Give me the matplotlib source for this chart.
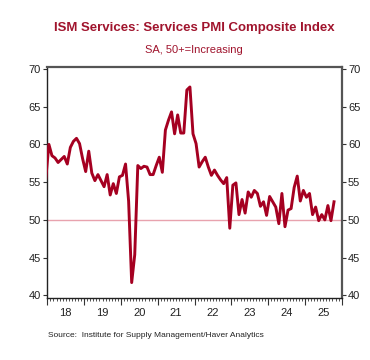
import numpy as np
import matplotlib
matplotlib.use("Agg")
import matplotlib.pyplot as plt
from matplotlib.ticker import FixedLocator, NullFormatter

# Monthly ISM Services PMI, Dec 2017 .. Oct 2025
start_year, start_month = 2017, 12
values = [
    55.5,
    # 2018
    60.0, 58.5, 58.2, 57.6, 58.0, 58.4, 57.4, 59.6, 60.4, 60.8, 60.1, 58.1,
    # 2019
    56.4, 59.1, 56.2, 55.2, 56.0, 55.2, 54.4, 56.0, 53.3, 54.8, 53.5, 55.7,
    # 2020
    55.9, 57.4, 52.5, 41.7, 45.4, 57.2, 56.8, 57.1, 57.0, 56.0, 56.0, 57.2,
    # 2021
    58.3, 56.3, 61.9, 63.2, 64.3, 61.4, 63.9, 61.5, 61.5, 67.2, 67.6, 61.4,
    # 2022
    60.1, 57.0, 57.7, 58.3, 57.0, 55.9, 56.6, 55.9, 55.3, 54.8, 55.6, 48.9,
    # 2023
    54.6, 54.9, 50.7, 52.7, 50.9, 53.7, 53.0, 53.9, 53.5, 51.8, 52.4, 50.6,
    # 2024
    53.1, 52.4, 51.7, 49.5, 53.5, 49.1, 51.3, 51.5, 54.3, 55.8, 52.5, 53.9,
    # 2025
    53.0, 53.5, 50.7, 51.7, 49.9, 50.7, 50.0, 51.9, 49.9, 52.4,
]
year_labels = ["18", "19", "20", "21", "22", "23", "24", "25"]
y_ticks = [40, 45, 50, 55, 60, 65, 70]
reference_level = 50

title = "ISM Services: Services PMI Composite Index"
subtitle = "SA, 50+=Increasing"
source = "Source:  Institute for Supply Management/Haver Analytics"

line_color = "#A50021"
ref_color = "#E8A3AE"
text_red = "#A0142D"

n = len(values)
x = np.array([start_year + (start_month - 1 + i + 0.5) / 12 for i in range(n)])

plt.rcParams['font.family'] = ['Liberation Sans', 'DejaVu Sans']

fig = plt.figure(figsize=(3.7, 3.6), dpi=100)
ax = fig.add_axes([0.128, 0.172, 0.7955, 0.642])

ax.axhline(reference_level, color=ref_color, lw=1.0, zorder=1)
ax.plot(x, values, color=line_color, lw=2.1, zorder=3, solid_joinstyle='round')

ax.set_xlim(2018, 2026)
ax.set_ylim(39.65, 70.25)

# x axis: year boundaries major, months minor, labels at mid-year
years = np.arange(2018, 2027)
ax.xaxis.set_major_locator(FixedLocator(years))
ax.xaxis.set_major_formatter(NullFormatter())
ax.xaxis.set_minor_locator(FixedLocator(np.arange(2018, 2026, 1 / 12)))
ax.tick_params(axis='x', which='major', length=5, width=0.8, color='#333333', direction='out')
ax.tick_params(axis='x', which='minor', length=2.5, width=0.6, color='#333333', direction='out')
for i, lab in enumerate(year_labels):
    ax.text(2018.5 + i, -0.045, lab, transform=ax.get_xaxis_transform(),
            ha='center', va='top', fontsize=8, color='#222222')

ax.set_yticks(y_ticks)
ax.tick_params(axis='y', which='major', length=3, width=0.8, color='#333333',
               labelsize=8, labelcolor='#222222', pad=1.5,
               left=True, right=True, labelleft=True, labelright=True)

for s in ['left', 'bottom']:
    ax.spines[s].set_color('#222222')
    ax.spines[s].set_linewidth(1.0)
for s in ['top', 'right']:
    ax.spines[s].set_color('#555555')
    ax.spines[s].set_linewidth(1.6)

fig.text(0.525, 0.921, title, ha='center', va='center', fontsize=9.5,
         fontweight='bold', color=text_red)
fig.text(0.525, 0.861, subtitle, ha='center', va='center', fontsize=8.0,
         color=text_red)
fig.text(0.13, 0.068, source, ha='left', va='center', fontsize=6.0,
         color='#222222')

fig.savefig("out.png", dpi=100)
